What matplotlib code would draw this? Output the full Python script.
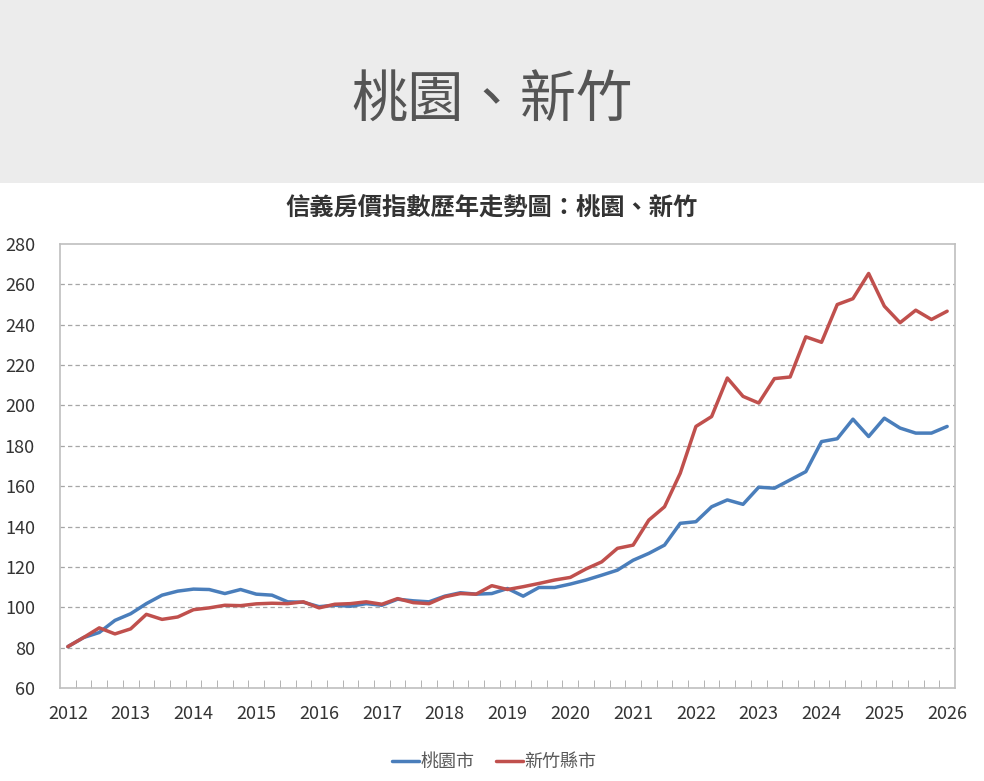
import matplotlib
matplotlib.use("Agg")
import matplotlib.pyplot as plt
from matplotlib.patches import Rectangle
from matplotlib.ticker import FixedLocator

plt.rcParams['font.family'] = ['Noto Sans CJK TC', 'DejaVu Sans']

page_title = "桃園、新竹"
chart_title = "信義房價指數歷年走勢圖：桃園、新竹"
series_names = ["桃園市", "新竹縣市"]
year_labels = [str(y) for y in range(2012, 2027)]

taoyuan = [80.5, 85, 87.5, 93.5, 96.8, 101.8, 106, 108, 109, 108.8, 106.8, 108.8,
           106.5, 106, 102.7, 102.5, 100.3, 101, 100.5, 101.8, 101, 104, 103.2, 102.7,
           105.5, 107.2, 106.5, 106.8, 109.3, 105.5, 109.8, 109.8, 111.5, 113.5, 115.9,
           118.4, 123.3, 126.7, 130.8, 141.6, 142.4, 149.8, 153.2, 151, 159.5, 159,
           163.1, 167.2, 182.1, 183.5, 193.2, 184.6, 193.7, 188.8, 186.3, 186.3, 189.6]
hsinchu = [80.5, 85, 89.8, 86.8, 89.3, 96.5, 94, 95.2, 98.8, 99.7, 101, 100.8,
           101.7, 102, 101.8, 102.7, 99.7, 101.5, 101.8, 102.7, 101.5, 104.3, 102.3, 101.8,
           105.2, 106.8, 106.5, 110.7, 108.8, 110.2, 111.8, 113.5, 114.8, 119, 122.5,
           129.2, 130.8, 143.2, 149.8, 166.4, 189.6, 194.5, 213.6, 204.5, 201.2, 213.3,
           214.1, 234, 231.3, 250, 252.9, 265.4, 249.2, 241, 247.2, 242.6, 246.7]

W, H = 984, 781
fig = plt.figure(figsize=(W / 100, H / 100), dpi=100)
fig.patch.set_facecolor("white")

# top banner
fig.patches.append(Rectangle((0, 1 - 183 / H), 1, 183 / H, transform=fig.transFigure,
                             facecolor="#ececec", edgecolor="none", zorder=0))
fig.text(0.5, 1 - 102 / H, page_title, ha="center", va="center", fontsize=40.5,
         color="#555555")
fig.text(0.5, 1 - 208 / H, chart_title, ha="center", va="center", fontsize=17.5,
         fontweight="bold", color="#333333")

left, right, top, bottom = 60, 955, 244, 688
ax = fig.add_axes([left / W, 1 - bottom / H, (right - left) / W, (bottom - top) / H])

x = list(range(len(taoyuan)))
ax.plot(x, taoyuan, color="#4a7ebb", lw=2.5, solid_joinstyle="round",
        solid_capstyle="round", label=series_names[0], zorder=3)
ax.plot(x, hsinchu, color="#c0504d", lw=2.5, solid_joinstyle="round",
        solid_capstyle="round", label=series_names[1], zorder=4)

ax.set_xlim(-0.5, len(taoyuan) - 0.5)
ax.set_ylim(60, 280)
ax.set_yticks(range(60, 281, 20))
ax.set_xticks(range(0, len(taoyuan), 4))
ax.set_xticklabels(year_labels)
ax.xaxis.set_minor_locator(FixedLocator([i + 0.5 for i in range(len(taoyuan) - 1)]))

ax.tick_params(axis="x", which="major", length=0, pad=12, labelsize=13,
               labelcolor="#333333")
ax.tick_params(axis="x", which="minor", direction="in", length=6, color="#a6a6a6")
ax.tick_params(axis="y", which="major", length=0, pad=18, labelsize=13,
               labelcolor="#333333")

for s in ax.spines.values():
    s.set_color("#bfbfbf")
    s.set_linewidth(1.2)

for v in range(80, 280, 20):
    ax.axhline(v, color="#a6a6a6", lw=0.9, ls=(0, (3.5, 2.5)), zorder=1)

leg = fig.legend(loc="center", bbox_to_anchor=(494 / W, 1 - 762 / H), ncol=2,
                 frameon=False, fontsize=13, handlelength=1.5, handletextpad=0.05,
                 columnspacing=1.2)
for t in leg.get_texts():
    t.set_color("#595959")

fig.savefig("out.png", dpi=100, facecolor="white")
